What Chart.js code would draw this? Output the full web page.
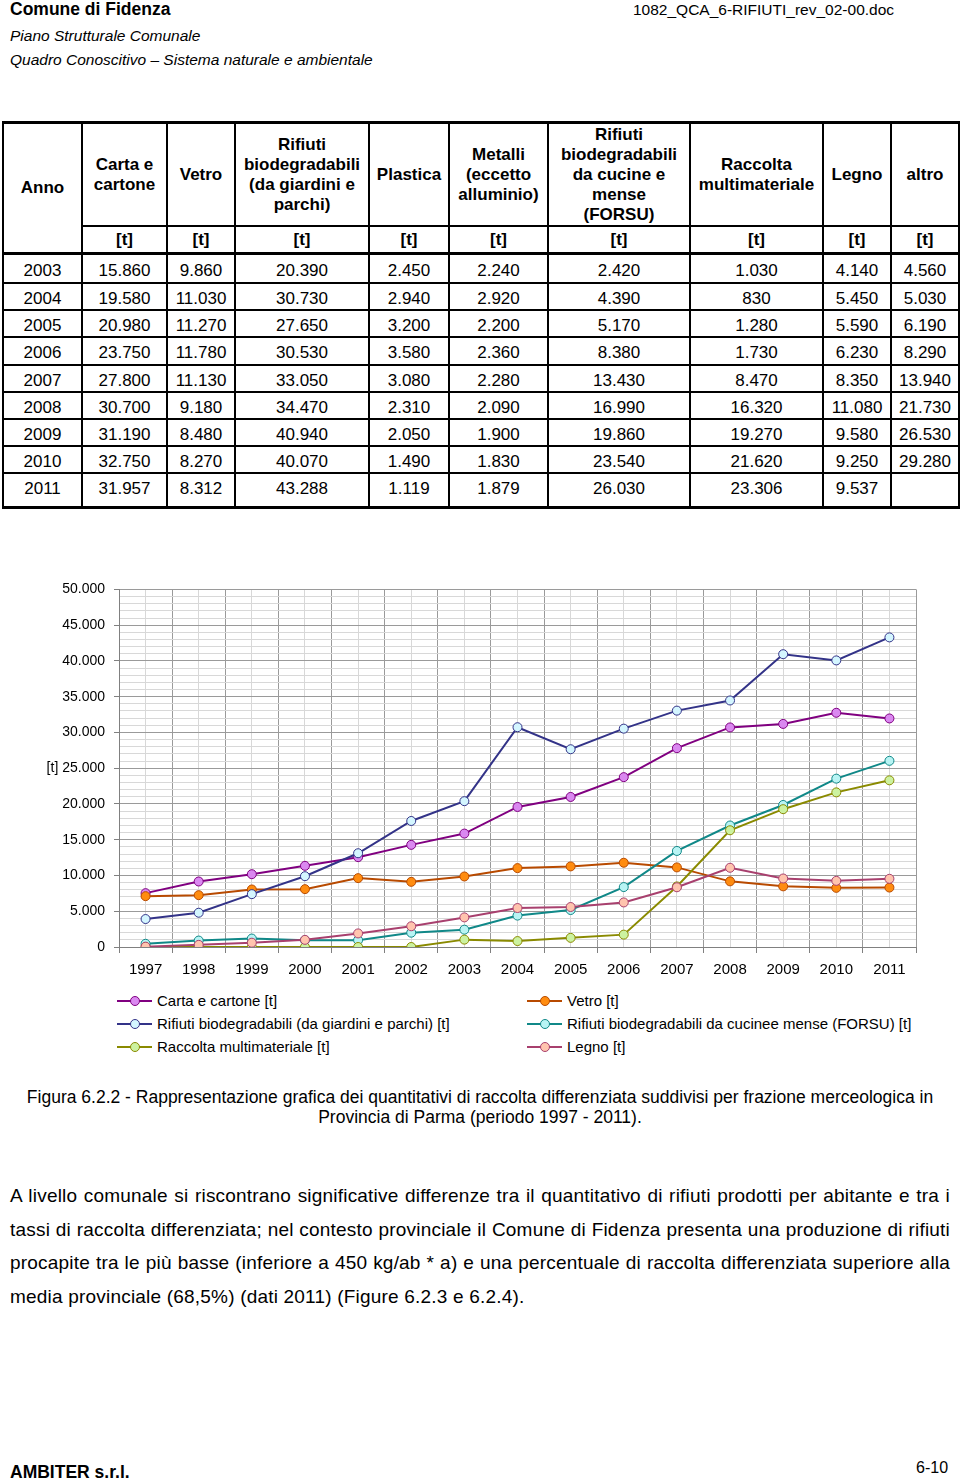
<!DOCTYPE html>
<html>
<head>
<meta charset="utf-8">
<script src="https://cdn.jsdelivr.net/npm/chart.js@4.4.1/dist/chart.umd.min.js"></script>
<style>
  html, body { margin: 0; padding: 0; background: #fff; }
  body { width: 960px; height: 1481px; position: relative; overflow: hidden;
         font-family: "Liberation Sans", Arial, sans-serif; color: #000; }
  .abs { position: absolute; white-space: nowrap; }
  #tbl { position: absolute; left: 2px; top: 121px; width: 956px; border-collapse: collapse;
         table-layout: fixed; font-size: 17px; }
  #tbl td, #tbl th { border: 2px solid #000; text-align: center; padding: 0; }
  #tbl th { font-weight: bold; line-height: 20px; }
  #tbl tr.head th { height: 101px; border-top: 3px solid #000; }
  #tbl tr.units th { height: 25px; border-bottom: 3px solid #000; }
  #tbl td { height: 20.2px; padding-top: 5px; }
  #tbl tr.first td { height: 22px; }
  #tbl tr:last-child td { height: 30px; padding-top: 0; padding-bottom: 2px; border-bottom: 3px solid #000; }
  #chartBox { position: absolute; left: 0; top: 572px; width: 960px; height: 408px; }
  #legend { position: absolute; left: 0; top: 990px; width: 960px; font-size: 15px; }
  .li { position: absolute; height: 22px; line-height: 22px; white-space: nowrap; }
  .li .ln { position: absolute; left: 0; top: 10px; width: 35px; height: 2px; }
  .li .dot { position: absolute; left: 13px; top: 6px; width: 8px; height: 8px; border-radius: 50%;
             border: 1px solid; box-sizing: content-box; }
  .li .tx { position: absolute; left: 40px; top: 0; }
  #para { position: absolute; left: 10px; top: 1179px; width: 940px; font-size: 19px; line-height: 33.7px;
          letter-spacing: 0.2px; }
  #para div { text-align: justify; text-align-last: justify; white-space: nowrap; }
  #para div.last { text-align-last: left; }
</style>
</head>
<body>
<div class="abs" style="left:10px;top:-1px;font-size:17.5px;line-height:20px;font-weight:bold;">Comune di Fidenza</div>
<div class="abs" style="left:633px;top:0px;font-size:15.5px;line-height:20px;">1082_QCA_6-RIFIUTI_rev_02-00.doc</div>
<div class="abs" style="left:10px;top:26px;font-size:15.5px;line-height:20px;font-style:italic;">Piano Strutturale Comunale</div>
<div class="abs" style="left:10px;top:50px;font-size:15.5px;line-height:20px;font-style:italic;">Quadro Conoscitivo – Sistema naturale e ambientale</div>

<table id="tbl">
  <colgroup>
    <col style="width:79px"><col style="width:85px"><col style="width:68px"><col style="width:134px">
    <col style="width:80px"><col style="width:99px"><col style="width:142px"><col style="width:133px">
    <col style="width:68px"><col style="width:68px">
  </colgroup>
  <tr class="head">
    <th rowspan="2" style="border-bottom:3px solid #000">Anno</th>
    <th>Carta e<br>cartone</th>
    <th>Vetro</th>
    <th>Rifiuti<br>biodegradabili<br>(da giardini e<br>parchi)</th>
    <th>Plastica</th>
    <th>Metalli<br>(eccetto<br>alluminio)</th>
    <th>Rifiuti<br>biodegradabili<br>da cucine e<br>mense<br>(FORSU)</th>
    <th>Raccolta<br>multimateriale</th>
    <th>Legno</th>
    <th>altro</th>
  </tr>
  <tr class="units">
    <th>[t]</th><th>[t]</th><th>[t]</th><th>[t]</th><th>[t]</th><th>[t]</th><th>[t]</th><th>[t]</th><th>[t]</th>
  </tr>
</table>

<div id="chartBox"><canvas id="chart" width="960" height="408"></canvas></div>
<div id="legend"></div>

<div class="abs" style="left:0;top:1087px;width:960px;text-align:center;font-size:17.5px;line-height:20px;">Figura 6.2.2 - Rappresentazione grafica dei quantitativi di raccolta differenziata suddivisi per frazione merceologica in<br>Provincia di Parma (periodo 1997 - 2011).</div>

<div id="para">
  <div>A livello comunale si riscontrano significative differenze tra il quantitativo di rifiuti prodotti per abitante e tra i</div>
  <div>tassi di raccolta differenziata; nel contesto provinciale il Comune di Fidenza presenta una produzione di rifiuti</div>
  <div>procapite tra le più basse (inferiore a 450 kg/ab * a) e una percentuale di raccolta differenziata superiore alla</div>
  <div class="last">media provinciale (68,5%) (dati 2011) (Figure 6.2.3 e 6.2.4).</div>
</div>

<div class="abs" style="left:10px;top:1462px;font-size:17.5px;line-height:20px;font-weight:bold;">AMBITER s.r.l.</div>
<div class="abs" style="left:916px;top:1458px;font-size:16px;line-height:20px;">6-10</div>

<script>
// anni del grafico
const years = ['1997', '1998', '1999', '2000', '2001', '2002', '2003', '2004', '2005', '2006', '2007', '2008', '2009', '2010', '2011'];

// serie [t] (1997-2002, 2003-2011 dalla tabella)
const carta = [7530, 9160, 10180, 11350, 12560, 14280, 15860, 19580, 20980, 23750, 27800, 30700, 31190, 32750, 31957];
const vetro = [7110, 7250, 8040, 8090, 9630, 9110, 9860, 11030, 11270, 11780, 11130, 9180, 8480, 8270, 8312];
const giardini = [3910, 4790, 7390, 9900, 13110, 17620, 20390, 30730, 27650, 30530, 33050, 34470, 40940, 40070, 43288];
const forsu = [450, 900, 1180, 960, 960, 2000, 2420, 4390, 5170, 8380, 13430, 16990, 19860, 23540, 26030];
const multimateriale = [0, 0, 0, 0, 0, 0, 1030, 830, 1280, 1730, 8470, 16320, 19270, 21620, 23306];
const legno = [50, 300, 600, 1000, 1900, 2900, 4140, 5450, 5590, 6230, 8350, 11080, 9580, 9250, 9537];

// colonne solo in tabella
const tableYears = ['2003', '2004', '2005', '2006', '2007', '2008', '2009', '2010', '2011'];
const plastica = [2450, 2940, 3200, 3580, 3080, 2310, 2050, 1490, 1119];
const metalli = [2240, 2920, 2200, 2360, 2280, 2090, 1900, 1830, 1879];
const altro = [4560, 5030, 6190, 8290, 13940, 21730, 26530, 29280, null];

const yTicks = [0, 5000, 10000, 15000, 20000, 25000, 30000, 35000, 40000, 45000, 50000];

function fmt(v) {
  if (v === null || v === undefined) return '';
  return String(v).replace(/\B(?=(\d{3})+(?!\d))/g, '.');
}

// tabella
const tbl = document.getElementById('tbl');
const off = years.indexOf('2003');
tableYears.forEach((y, i) => {
  const row = [y, carta[off + i], vetro[off + i], giardini[off + i], plastica[i], metalli[i],
               forsu[off + i], multimateriale[off + i], legno[off + i], altro[i]];
  const tr = document.createElement('tr');
  if (i === 0) tr.className = 'first';
  row.forEach((v, j) => {
    const td = document.createElement('td');
    td.textContent = j === 0 ? v : fmt(v);
    tr.appendChild(td);
  });
  tbl.appendChild(tr);
});

const series = [
  { label: 'Carta e cartone [t]', data: carta, line: '#800080', fill: '#DA88F0' },
  { label: 'Vetro [t]', data: vetro, line: '#B84A00', fill: '#FF8C10' },
  { label: 'Rifiuti biodegradabili (da giardini e parchi) [t]', data: giardini, line: '#333388', fill: '#D4F6FF' },
  { label: 'Rifiuti biodegradabili da cucinee mense (FORSU) [t]', data: forsu, line: '#108888', fill: '#B8F4F4' },
  { label: 'Raccolta multimateriale [t]', data: multimateriale, line: '#8A8A00', fill: '#CCF2A0' },
  { label: 'Legno [t]', data: legno, line: '#A8406E', fill: '#FFC4AE' }
];

const major = '#9a9a9a';
const minor = '#d8d8d8';

const chart = new Chart(document.getElementById('chart'), {
  type: 'line',
  data: {
    labels: years,
    datasets: series.map((s, i) => ({
      label: s.label,
      data: s.data,
      borderColor: s.line,
      backgroundColor: s.fill,
      borderWidth: 2,
      tension: 0,
      pointRadius: 4.5,
      pointHoverRadius: 4.5,
      pointBorderWidth: 1,
      pointBorderColor: s.line,
      pointBackgroundColor: s.fill,
      order: -i
    }))
  },
  options: {
    responsive: false,
    maintainAspectRatio: false,
    animation: false,
    events: [],
    layout: { padding: { top: 0, right: 44, left: 0, bottom: 0 } },
    plugins: { legend: { display: false }, tooltip: { enabled: false } },
    scales: {
      x: {
        type: 'category',
        offset: true,
        grid: { offset: true, color: major, tickLength: 6, tickColor: '#808080' },
        border: { color: '#808080' },
        ticks: { color: '#000', font: { family: 'Liberation Sans', size: 15 }, padding: 8,
                 maxRotation: 0, autoSkip: false },
        afterFit: s => { s.height = 33; }
      },
      x2: {
        type: 'category',
        labels: years,
        position: 'top',
        offset: true,
        grid: { offset: false, color: minor, drawTicks: false },
        border: { display: false },
        ticks: { display: false },
        afterFit: s => { s.height = 0; }
      },
      y: {
        min: 0,
        max: 50000,
        grid: {
          color: c => (c.tick && c.tick.value % 5000 === 0) ? major : minor,
          tickColor: c => (c.tick && c.tick.value % 5000 === 0) ? '#808080' : 'rgba(0,0,0,0)',
          tickLength: 5
        },
        border: { color: '#808080' },
        ticks: {
          stepSize: 1000,
          autoSkip: false,
          color: '#000',
          padding: 9,
          font: { family: 'Liberation Sans', size: 14 },
          callback: v => {
            if (!yTicks.includes(v)) return '';
            return v === 25000 ? '[t] ' + fmt(v) : fmt(v);
          }
        },
        afterFit: s => { s.width = 119; }
      }
    }
  }
});

// legenda su due colonne
const legend = document.getElementById('legend');
const colX = [117, 527];
chart.data.datasets.forEach((ds, i) => {
  const item = document.createElement('div');
  item.className = 'li';
  item.style.left = colX[i % 2] + 'px';
  item.style.top = (Math.floor(i / 2) * 23) + 'px';
  item.innerHTML = '<span class="ln"></span><span class="dot"></span><span class="tx"></span>';
  item.querySelector('.ln').style.background = ds.borderColor;
  item.querySelector('.dot').style.background = ds.pointBackgroundColor;
  item.querySelector('.dot').style.borderColor = ds.pointBorderColor;
  item.querySelector('.tx').textContent = ds.label;
  legend.appendChild(item);
});
</script>
</body>
</html>
